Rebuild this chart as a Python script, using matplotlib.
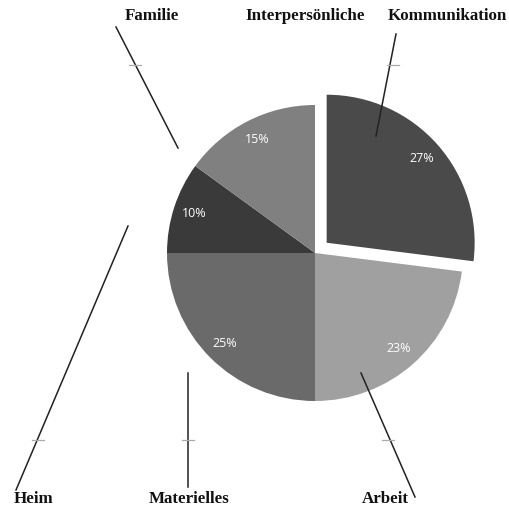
import matplotlib.pyplot as plt

# slice data, clockwise from 12 o'clock
shares = [27, 23, 25, 10, 15]
names = ["Interpersönliche Kommunikation", "Arbeit", "Materielles", "Heim", "Familie"]
greys = ["#4a4a4a", "#a0a0a0", "#6a6a6a", "#3a3a3a", "#808080"]

H = 509
R = 148
explode = [0.105 * R, 0, 0, 0, 0]  # pie takes explode in data units

fig = plt.figure(figsize=(5.10, 5.09), dpi=100)
ax = fig.add_axes([0, 0, 1, 1])

wedges, texts, autotexts = ax.pie(shares, colors=greys, explode=explode, startangle=90,
                                  counterclock=False, center=(315, H - 253), radius=R,
                                  autopct="%d%%", pctdistance=0.86, frame=True,
                                  wedgeprops=dict(linewidth=0))
ax.set_xlim(0, 510)
ax.set_ylim(0, H)
ax.set_aspect("equal")
ax.axis("off")
for t in autotexts:
    t.set_color("white")
    t.set_fontsize(9)
    t.set_family("Open Sans")

lbl = dict(fontsize=12.2, fontweight="bold", family="Liberation Serif",
           ha="center", va="center", color="#111111")
# label text, (x, y) in pixels from top-left
label_pos = [("Familie", 152, 16), ("Interpersönliche", 305, 16), ("Kommunikation", 447, 16),
             ("Heim", 33, 499), ("Materielles", 189, 499), ("Arbeit", 385, 499)]
for s, x, y in label_pos:
    ax.text(x, H - y, s, **lbl)

# leader lines (x0, y0, x1, y1) in pixels
leaders = [(116, 27, 178, 148), (396, 34, 376, 136), (16, 490, 128, 226),
           (188, 373, 188, 487), (361, 373, 415, 497)]
for x0, y0, x1, y1 in leaders:
    ax.plot([x0, x1], [H - y0, H - y1], color="#222222", lw=1.1)

# little grey tick marks on the leaders
ticks = [(135, 65), (393, 65), (38, 440), (188, 440), (388, 440)]
for x, y in ticks:
    ax.plot([x - 6, x + 6], [H - y, H - y], color="#aaaaaa", lw=0.9)

fig.savefig("out.png", dpi=100)
